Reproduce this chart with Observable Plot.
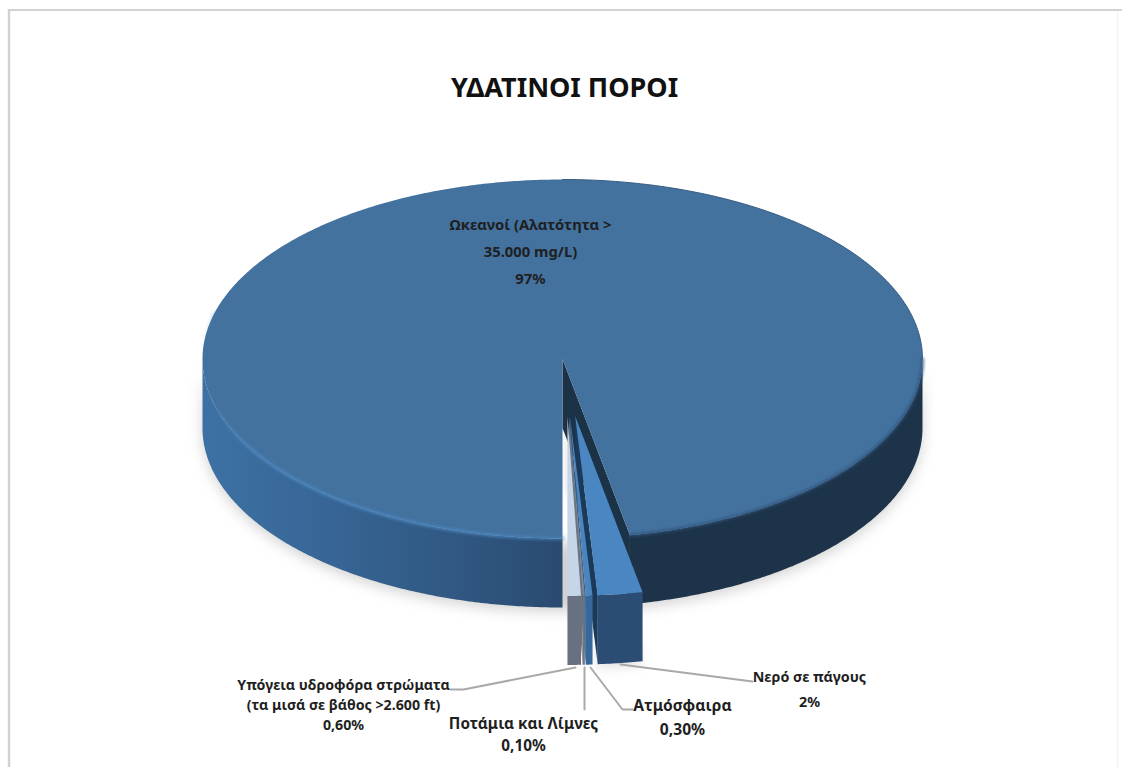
<!DOCTYPE html>
<html lang="el">
<head>
<meta charset="utf-8">
<script src="https://cdn.jsdelivr.net/npm/d3@7"></script>
<script src="https://cdn.jsdelivr.net/npm/@observablehq/plot@0.6"></script>
<style>
  html, body { margin: 0; padding: 0; background: #fff; }
  svg { display: block; }
</style>
</head>
<body>
<script>
// Shares of the world's water, in percent, clockwise from the bottom of the pie.
const categories = ["Ωκεανοί", "Νερό σε πάγους", "Ατμόσφαιρα", "Ποτάμια και Λίμνες", "Υπόγεια υδροφόρα"];
const shares = [97, 2, 0.3, 0.1, 0.6];
const chartTitle = "ΥΔΑΤΙΝΟΙ ΠΟΡΟΙ";
const labelLines = [
  ["Ωκεανοί (Αλατότητα >", "35.000 mg/L)", "97%"],
  ["Νερό σε πάγους", "2%"],
  ["Ατμόσφαιρα", "0,30%"],
  ["Ποτάμια και Λίμνες", "0,10%"],
  ["Υπόγεια υδροφόρα στρώματα", "(τα μισά σε βάθος >2.600 ft)", "0,60%"]
];

const W = 1122, H = 767;
const FONT = "'Noto Sans', sans-serif";

// The pie is described in units of its radius; the scales below place it on the page.
const RX = 360, RY = 179.5, CX = 562, CY = 358.5;
const DEPTH = 69 / RY;
const PULL_X = 0.2, PULL_Y = 0.32, DRIFT_X = 0.01;
const px = v => (v - CX) / RX;
const py = v => (v - CY) / RY;

const arcs = d3.pie().value(d => d).sort(null).startAngle(Math.PI).endAngle(3 * Math.PI)(shares);

const slices = arcs.map((a, i) => {
  const mid = (a.startAngle + a.endAngle) / 2;
  const pulled = i > 0;
  return {
    a0: a.startAngle,
    a1: a.endAngle,
    ox: pulled ? DRIFT_X + PULL_X * Math.sin(mid) : 0,
    oy: pulled ? -PULL_Y * Math.cos(mid) : 0
  };
});

const rad = d => d * Math.PI / 180;
const sweep = (a0, a1) => {
  const n = Math.max(2, Math.ceil(Math.abs(a1 - a0) / rad(0.5)));
  return d3.range(n + 1).map(k => a0 + (a1 - a0) * k / n);
};
const rim = (s, a, drop = 0) => ({x: s.ox + Math.sin(a), y: s.oy - Math.cos(a) + drop});
const apex = (s, drop = 0) => ({x: s.ox, y: s.oy + drop});

const topFace = s => [apex(s), ...sweep(s.a0, s.a1).map(a => rim(s, a)), apex(s)];
const outerWall = (s, a0, a1) => [
  ...sweep(a0, a1).map(a => rim(s, a)),
  ...sweep(a0, a1).reverse().map(a => rim(s, a, DEPTH))
];
const cutWall = (s, a) => [apex(s), rim(s, a), rim(s, a, DEPTH), apex(s, DEPTH)];

const poly = (points, fill, extra = {}) =>
  Plot.line(points, {x: "x", y: "y", fill, stroke: "none", curve: "linear", ...extra});
const edge = (points, stroke, strokeWidth, extra = {}) =>
  Plot.line(points, {x: "x", y: "y", stroke, strokeWidth, curve: "linear", ...extra});

const [ocean, ice, air, rivers, ground] = slices;

// Colours of each pulled slice: top face, front wall, inner cut wall.
const sliceStyles = [
  null,
  {top: "#4a86c2", front: "#2b4d73", cut: "#1b3a5a"},
  {top: "#4a85bf", front: "#37689c", cut: "#2a5480"},
  {top: "#7d8794", front: "#6c7684", cut: "#6c7684"},
  {top: "#c6d5e8", front: "#687082", cut: "#687082"}
];

// The wedges are painted from the outermost on the right towards the pie's seam.
const pulledMarks = [1, 2, 3, 4].flatMap(i => {
  const s = slices[i], c = sliceStyles[i];
  return [
    poly(cutWall(s, s.a1), c.cut),
    poly(outerWall(s, s.a0, s.a1), c.front),
    poly(topFace(s), c.top)
  ];
});

// Leader lines start under their wedge and bend into their label.
const leaderEnds = [
  null,
  [{x: px(752), y: py(681)}],
  [{x: px(622), y: py(709)}, {x: px(632), y: py(709)}],
  [{x: px(584), y: py(709)}],
  [{x: px(463), y: py(689)}, {x: px(450), y: py(689)}]
];
const leaderStarts = [null, [620, 664], [590, 667], [584, 667], [575, 667]];
const leaders = [1, 2, 3, 4].map(i =>
  edge([{x: px(leaderStarts[i][0]), y: py(leaderStarts[i][1])}, ...leaderEnds[i]], "#a9a9a9", 2, {strokeLinejoin: "round"})
);

// Centre, line spacing and type size of each label.
const labelPlaces = [
  {x: 530, y: 225, gap: 27, size: 14.8},
  {x: 809, y: 677, gap: 25, size: 14.3},
  {x: 682, y: 705, gap: 24, size: 15.6},
  {x: 523, y: 724, gap: 22, size: 15.3},
  {x: 343, y: 685, gap: 20, size: 14.2}
];
const labelRows = labelLines.flatMap((lines, i) =>
  lines.map((text, k) => ({
    text,
    size: labelPlaces[i].size,
    x: px(labelPlaces[i].x),
    y: py(labelPlaces[i].y + k * labelPlaces[i].gap)
  }))
);

const gradientDefs = () => {
  const defs = d3.create("svg:defs");
  const wall = defs.append("linearGradient").attr("id", "leftWall").attr("x1", 0).attr("x2", 1).attr("y1", 0).attr("y2", 0);
  [[0, "#3d71a4"], [0.3, "#386798"], [0.7, "#305882"], [1, "#2a4a70"]].forEach(([o, c]) =>
    wall.append("stop").attr("offset", o).attr("stop-color", c));
  const bevel = defs.append("linearGradient").attr("id", "bevel").attr("x1", 0).attr("x2", 1).attr("y1", 0).attr("y2", 0);
  [[0, 0], [0.12, 1], [0.8, 1], [1, 0.7]].forEach(([o, a]) =>
    bevel.append("stop").attr("offset", o).attr("stop-color", "#4b84bb").attr("stop-opacity", a));
  return defs.node();
};

const silhouette = [
  ...sweep(rad(90), rad(270)).map(a => rim(ocean, a, DEPTH))
];

const chart = Plot.plot({
  width: W,
  height: H,
  margin: 0,
  x: {domain: [px(0), px(W)], range: [0, W], axis: null},
  y: {domain: [py(0), py(H)], range: [0, H], axis: null},
  style: {background: "#fff", fontFamily: FONT},
  marks: [
    gradientDefs,
    // Page border: firm along the top and left, barely there on the right
    Plot.ruleY([py(9.5)], {x1: px(8), x2: px(W), stroke: "#d2d2d2", strokeWidth: 2}),
    Plot.ruleX([px(8.5)], {y1: py(9), y2: py(H), stroke: "#d2d2d2", strokeWidth: 2.5}),
    Plot.ruleX([px(1117)], {y1: py(11), y2: py(H), stroke: "#f3f3f3", strokeWidth: 1.5}),
    // Soft drop shadow under the disc
    poly([...silhouette, ...sweep(rad(270), rad(90)).map(a => rim(ocean, a))], "#8f8f8f", {
      fillOpacity: 0.4, imageFilter: "blur(7px)", dy: 4
    }),
    poly(cutWall(ground, ground.a1).concat(outerWall(ice, ice.a0, ice.a1)), "#8f8f8f", {
      fillOpacity: 0.3, imageFilter: "blur(6px)", dy: 3
    }),
    // Disc: inner cut, side walls, top face
    poly(cutWall(ocean, ocean.a1), "#1c3247"),
    poly(outerWall(ocean, rad(90), ocean.a1 - 2 * Math.PI), "#1d3349"),
    poly(outerWall(ocean, rad(180), rad(270)), "url(#leftWall)"),
    poly(topFace(ocean), "#43729f"),
    // Bevel along the front rim of the top face
    edge(sweep(rad(180), rad(285)).map(a => rim(ocean, a)), "url(#bevel)", 3, {imageFilter: "blur(1.4px)"}),
    edge(sweep(rad(90), ocean.a1 - 2 * Math.PI).map(a => rim(ocean, a)), "#2e527a", 2.5, {imageFilter: "blur(1.5px)"}),
    edge(sweep(rad(0), rad(90)).map(a => rim(ocean, a)), "#345a80", 1),
    ...pulledMarks,
    ...leaders,
    Plot.text(labelRows, {
      x: "x", y: "y", text: "text", fontSize: "size", fontWeight: 700, fill: "#1f1f1f", textAnchor: "middle"
    }),
    Plot.text([chartTitle], {
      x: () => px(564), y: () => py(88), text: d => d, fontSize: 27, fontWeight: 700, fill: "#111", textAnchor: "middle"
    })
  ]
});

document.body.append(chart);
</script>
</body>
</html>
